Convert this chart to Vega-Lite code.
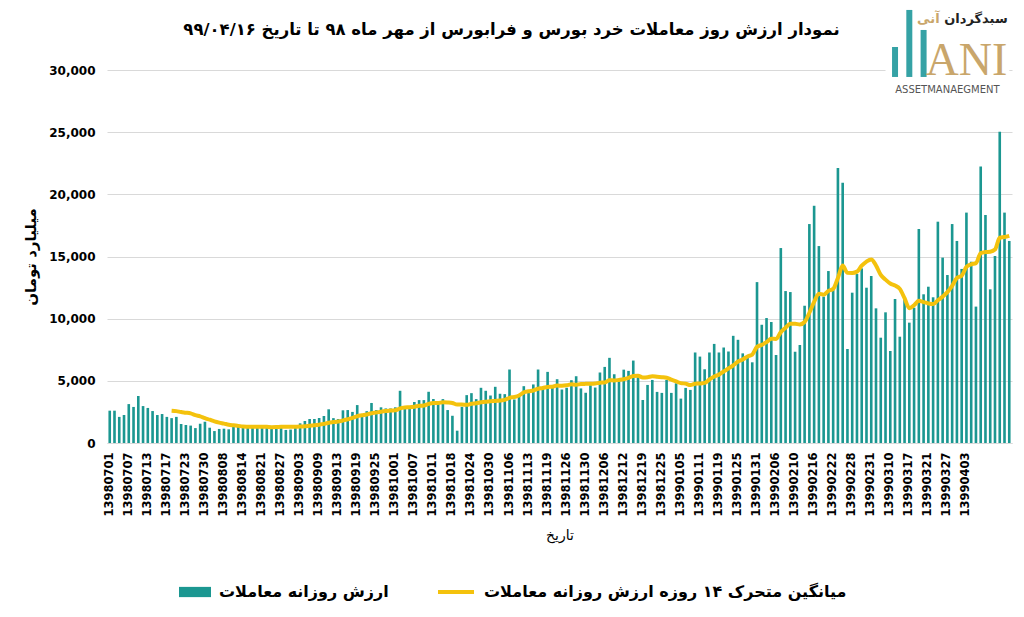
{
  "$schema": "https://vega.github.io/schema/vega-lite/v6.json",
  "width": 905,
  "height": 373,
  "autosize": {"type": "none"},
  "padding": {"left": 107, "top": 70, "right": 12, "bottom": 174},
  "background": "white",
  "config": {
    "font": "DejaVu Sans",
    "view": {"stroke": null},
    "axis": {"labelColor": "black", "titleColor": "black"}
  },
  "title": {
    "text": "نمودار ارزش روز معاملات خرد بورس و فرابورس از مهر ماه ۹۸ تا تاریخ ۹۹/۰۴/۱۶",
    "fontSize": 16.5,
    "fontWeight": "bold",
    "color": "black",
    "anchor": "middle",
    "frame": "group",
    "baseline": "bottom",
    "dx": -48,
    "offset": -53
  },
  "datasets": {
    "trade": [
      {"i":0,"d":"13980701","v":2600},{"i":1,"v":2600},{"i":2,"v":2100},{"i":3,"v":2250},
      {"i":4,"d":"13980707","v":3130},{"i":5,"v":2900},{"i":6,"v":3780},{"i":7,"v":2970},
      {"i":8,"d":"13980713","v":2820},{"i":9,"v":2570},{"i":10,"v":2250},{"i":11,"v":2330},
      {"i":12,"d":"13980717","v":2100},{"i":13,"v":2000,"ma":2600},{"i":14,"v":2100,"ma":2564},{"i":15,"v":1530,"ma":2488},
      {"i":16,"d":"13980723","v":1450,"ma":2441},{"i":17,"v":1400,"ma":2381},{"i":18,"v":1200,"ma":2243},{"i":19,"v":1550,"ma":2146},
      {"i":20,"d":"13980730","v":1710,"ma":1999},{"i":21,"v":1230,"ma":1874},{"i":22,"v":960,"ma":1741},{"i":23,"v":1130,"ma":1639},
      {"i":24,"d":"13980808","v":1150,"ma":1560},{"i":25,"v":1100,"ma":1472},{"i":26,"v":1400,"ma":1422},{"i":27,"v":1380,"ma":1378},
      {"i":28,"d":"13980814","v":1350,"ma":1324},{"i":29,"v":1400,"ma":1315},{"i":30,"v":1380,"ma":1310},{"i":31,"v":1350,"ma":1306},
      {"i":32,"d":"13980821","v":1320,"ma":1315},{"i":33,"v":1350,"ma":1301},{"i":34,"v":1350,"ma":1275},{"i":35,"v":1350,"ma":1284},
      {"i":36,"d":"13980827","v":1300,"ma":1308},{"i":37,"v":1050,"ma":1302},{"i":38,"v":1080,"ma":1297},{"i":39,"v":1300,"ma":1311},
      {"i":40,"d":"13980903","v":1580,"ma":1324},{"i":41,"v":1770,"ma":1352},{"i":42,"v":1930,"ma":1394},{"i":43,"v":1930,"ma":1431},
      {"i":44,"d":"13980909","v":2010,"ma":1476},{"i":45,"v":2170,"ma":1535},{"i":46,"v":2710,"ma":1634},{"i":47,"v":2000,"ma":1681},
      {"i":48,"d":"13980913","v":1930,"ma":1722},{"i":49,"v":2630,"ma":1814},{"i":50,"v":2650,"ma":1910},{"i":51,"v":2500,"ma":2014},
      {"i":52,"d":"13980919","v":3050,"ma":2154},{"i":53,"v":2300,"ma":2226},{"i":54,"v":2560,"ma":2296},{"i":55,"v":3220,"ma":2399},
      {"i":56,"d":"13980925","v":2650,"ma":2451},{"i":57,"v":2870,"ma":2518},{"i":58,"v":2780,"ma":2573},{"i":59,"v":2780,"ma":2616},
      {"i":60,"d":"13981001","v":2870,"ma":2628},{"i":61,"v":4200,"ma":2785},{"i":62,"v":2870,"ma":2852},{"i":63,"v":2950,"ma":2875},
      {"i":64,"d":"13981007","v":3300,"ma":2921},{"i":65,"v":3450,"ma":2989},{"i":66,"v":3450,"ma":3018},{"i":67,"v":4120,"ma":3148},
      {"i":68,"d":"13981011","v":3540,"ma":3218},{"i":69,"v":3150,"ma":3213},{"i":70,"v":3530,"ma":3276},{"i":71,"v":2650,"ma":3260},
      {"i":72,"d":"13981018","v":2190,"ma":3218},{"i":73,"v":990,"ma":3090},{"i":74,"v":2910,"ma":3093},{"i":75,"v":3850,"ma":3068},
      {"i":76,"d":"13981024","v":4010,"ma":3149},{"i":77,"v":3530,"ma":3191},{"i":78,"v":4440,"ma":3272},{"i":79,"v":4200,"ma":3326},
      {"i":80,"d":"13981030","v":3820,"ma":3352},{"i":81,"v":4520,"ma":3381},{"i":82,"v":3960,"ma":3411},{"i":83,"v":3930,"ma":3466},
      {"i":84,"d":"13981106","v":5910,"ma":3636},{"i":85,"v":3500,"ma":3697},{"i":86,"v":3900,"ma":3819},{"i":87,"v":4570,"ma":4075},
      {"i":88,"d":"13981113","v":4120,"ma":4161},{"i":89,"v":4710,"ma":4223},{"i":90,"v":5910,"ma":4359},{"i":91,"v":4390,"ma":4420},
      {"i":92,"d":"13981119","v":5720,"ma":4511},{"i":93,"v":4440,"ma":4529},{"i":94,"v":5130,"ma":4622},{"i":95,"v":4300,"ma":4606},
      {"i":96,"d":"13981126","v":4440,"ma":4641},{"i":97,"v":5050,"ma":4721},{"i":98,"v":5370,"ma":4682},{"i":99,"v":4390,"ma":4746},
      {"i":100,"d":"13981130","v":4040,"ma":4756},{"i":101,"v":4650,"ma":4761},{"i":102,"v":4460,"ma":4786},{"i":103,"v":5670,"ma":4854},
      {"i":104,"d":"13981206","v":6120,"ma":4869},{"i":105,"v":6850,"ma":5045},{"i":106,"v":5530,"ma":5031},{"i":107,"v":5000,"ma":5071},
      {"i":108,"d":"13981212","v":5900,"ma":5126},{"i":109,"v":5800,"ma":5234},{"i":110,"v":6630,"ma":5390},{"i":111,"v":5290,"ma":5407},
      {"i":112,"d":"13981219","v":3460,"ma":5271},{"i":113,"v":4670,"ma":5291},{"i":114,"v":5070,"ma":5364},{"i":115,"v":4110,"ma":5326},
      {"i":116,"d":"13981225","v":4030,"ma":5295},{"i":117,"v":5070,"ma":5252},{"i":118,"v":4030,"ma":5103},{"i":119,"v":4800,"ma":4956},
      {"i":120,"d":"13990105","v":3570,"ma":4816},{"i":121,"v":4430,"ma":4776},{"i":122,"v":4270,"ma":4659},{"i":123,"v":7280,"ma":4765},
      {"i":124,"d":"13990111","v":6950,"ma":4788},{"i":125,"v":5930,"ma":4834},{"i":126,"v":7280,"ma":5106},{"i":127,"v":7970,"ma":5342},
      {"i":128,"d":"13990119","v":7280,"ma":5500},{"i":129,"v":7680,"ma":5755},{"i":130,"v":7360,"ma":5993},{"i":131,"v":8620,"ma":6246},
      {"i":132,"d":"13990125","v":8300,"ma":6551},{"i":133,"v":7210,"ma":6724},{"i":134,"v":6940,"ma":6964},{"i":135,"v":6490,"ma":7111},
      {"i":136,"d":"13990131","v":12940,"ma":7731},{"i":137,"v":9510,"ma":7890},{"i":138,"v":10050,"ma":8111},{"i":139,"v":9730,"ma":8383},
      {"i":140,"d":"13990206","v":7080,"ma":8369},{"i":141,"v":15680,"ma":8919},{"i":142,"v":12220,"ma":9272},{"i":143,"v":12140,"ma":9591},
      {"i":144,"d":"13990210","v":7340,"ma":9589},{"i":145,"v":7880,"ma":9536},{"i":146,"v":11040,"ma":9732},{"i":147,"v":17610,"ma":10475},
      {"i":148,"d":"13990216","v":19080,"ma":11342},{"i":149,"v":15840,"ma":12010},{"i":150,"v":11770,"ma":11926},{"i":151,"v":13830,"ma":12235},
      {"i":152,"d":"13990222","v":12300,"ma":12396},{"i":153,"v":22110,"ma":13280},{"i":154,"v":20930,"ma":14269},{"i":155,"v":7560,"ma":13689},
      {"i":156,"d":"13990228","v":12090,"ma":13680},{"i":157,"v":13590,"ma":13784},{"i":158,"v":14040,"ma":14262},{"i":159,"v":12490,"ma":14591},
      {"i":160,"d":"13990231","v":13430,"ma":14762},{"i":161,"v":10830,"ma":14278},{"i":162,"v":8470,"ma":13520},{"i":163,"v":10510,"ma":13139},
      {"i":164,"d":"13990310","v":7400,"ma":12827},{"i":165,"v":11580,"ma":12666},{"i":166,"v":8550,"ma":12399},{"i":167,"v":11600,"ma":11648},
      {"i":168,"d":"13990317","v":9680,"ma":10844},{"i":169,"v":10880,"ma":11081},{"i":170,"v":17210,"ma":11447},{"i":171,"v":11960,"ma":11331},
      {"i":172,"d":"13990321","v":12570,"ma":11226},{"i":173,"v":11720,"ma":11171},{"i":174,"v":17800,"ma":11483},{"i":175,"v":14910,"ma":11774},
      {"i":176,"d":"13990327","v":13510,"ma":12134},{"i":177,"v":17610,"ma":12641},{"i":178,"v":16250,"ma":13274},{"i":179,"v":14000,"ma":13446},
      {"i":180,"d":"13990403","v":18530,"ma":14159},{"i":181,"v":14580,"ma":14372},{"i":182,"v":10970,"ma":14464},{"i":183,"v":22230,"ma":15275},
      {"i":184,"v":18340,"ma":15356},{"i":185,"v":12360,"ma":15384},{"i":186,"v":15040,"ma":15561},{"i":187,"v":25040,"ma":16513},
      {"i":188,"v":18530,"ma":16565},{"i":189,"d":"13990416","v":16250,"ma":16661}
    ]
  },
  "data": {"name": "trade"},
  "layer": [
    {
      "mark": {"type": "bar"},
      "encoding": {
        "x": {
          "field": "i", "type": "ordinal",
          "scale": {"paddingInner": 0.45, "paddingOuter": 0.3},
          "axis": {
            "values": [0,4,8,12,16,20,24,28,32,36,40,44,48,52,56,60,64,68,72,76,80,84,88,92,96,100,104,108,112,116,120,124,128,132,136,140,144,148,152,156,160,164,168,172,176,180],
            "labelExpr": "['13980701','13980707','13980713','13980717','13980723','13980730','13980808','13980814','13980821','13980827','13980903','13980909','13980913','13980919','13980925','13981001','13981007','13981011','13981018','13981024','13981030','13981106','13981113','13981119','13981126','13981130','13981206','13981212','13981219','13981225','13990105','13990111','13990119','13990125','13990131','13990206','13990210','13990216','13990222','13990228','13990231','13990310','13990317','13990321','13990327','13990403'][datum.value / 4]",
            "labelAngle": -90,
            "labelFontSize": 11.5,
            "labelFontWeight": "bold",
            "labelPadding": 9,
            "ticks": false,
            "tickSize": 0,
            "domainColor": "#d9d9d9",
            "grid": false,
            "title": "تاریخ",
            "titleFontSize": 14,
            "titleFontWeight": "normal",
            "titlePadding": 12
          }
        },
        "y": {
          "field": "v", "type": "quantitative",
          "title": "میلیارد تومان",
          "scale": {"domain": [0, 30000], "nice": false},
          "axis": {
            "values": [0, 5000, 10000, 15000, 20000, 25000, 30000],
            "labelExpr": "format(datum.value, ',')",
            "labelFontSize": 12,
            "labelFontWeight": "bold",
            "labelPadding": 12,
            "ticks": false,
            "domain": false,
            "gridColor": "#d9d9d9",
            "title": "میلیارد تومان",
            "titleFontSize": 15,
            "titleFontWeight": "bold",
            "titlePadding": 10
          }
        },
        "fill": {
          "datum": "ارزش روزانه معاملات", "type": "nominal",
          "scale": {"range": ["#1b9791"]},
          "legend": {
            "orient": "none", "legendX": 72, "legendY": 506, "padding": 0,
            "title": null,
            "symbolType": "M-1,-0.32H1V0.32H-1Z", "symbolSize": 1024, "symbolStrokeWidth": 0,
            "labelFontSize": 16, "labelFontWeight": "bold", "labelColor": "black", "labelLimit": 600, "labelOffset": 8
          }
        }
      }
    },
    {
      "mark": {"type": "line", "strokeWidth": 4, "interpolate": "monotone"},
      "encoding": {
        "x": {"field": "i", "type": "ordinal"},
        "y": {"field": "ma", "type": "quantitative", "title": "میلیارد تومان"},
        "stroke": {
          "datum": "میانگین متحرک ۱۴ روزه ارزش روزانه معاملات", "type": "nominal",
          "scale": {"range": ["#f4c20d"]},
          "legend": {
            "orient": "none", "legendX": 329, "legendY": 502, "padding": 0,
            "title": null,
            "symbolType": "stroke", "symbolSize": 1296, "symbolStrokeWidth": 4,
            "labelFontSize": 16, "labelFontWeight": "bold", "labelColor": "black", "labelLimit": 600, "labelOffset": 8
          }
        }
      }
    },
    {
      "data": {"values": [{}]},
      "mark": {"type": "rect", "color": "white"},
      "encoding": {
        "x": {"datum": 163, "type": "ordinal"},
        "x2": {"datum": 189},
        "y": {"datum": 35500, "type": "quantitative"},
        "y2": {"datum": 28000}
      }
    },
    {
      "data": {"values": [{"x": 165, "top": 31850}, {"x": 168, "top": 34830}, {"x": 171, "top": 33220}]},
      "mark": {"type": "rule", "strokeWidth": 6, "color": "#35a2a5"},
      "encoding": {
        "x": {"field": "x", "type": "ordinal"},
        "y": {"field": "top", "type": "quantitative"},
        "y2": {"datum": 29440}
      }
    },
    {
      "data": {"values": [{}]},
      "mark": {"type": "text", "text": "ANI", "font": "Liberation Serif", "fontSize": 46, "color": "#c9a66b", "baseline": "alphabetic", "align": "center"},
      "encoding": {
        "x": {"datum": 180, "type": "ordinal"},
        "y": {"datum": 29600, "type": "quantitative"}
      }
    },
    {
      "data": {"values": [{}]},
      "mark": {"type": "text", "text": "ASSETMANAEGMENT", "fontSize": 10, "color": "#555555", "baseline": "middle", "align": "center"},
      "encoding": {
        "x": {"datum": 176, "type": "ordinal"},
        "y": {"datum": 28392, "type": "quantitative"}
      }
    },
    {
      "data": {"values": [{}]},
      "mark": {"type": "text", "text": "سبدگردان", "fontSize": 13, "fontWeight": "bold", "color": "#222222", "baseline": "middle", "align": "center"},
      "encoding": {
        "x": {"datum": 182, "type": "ordinal"},
        "y": {"datum": 34100, "type": "quantitative"}
      }
    },
    {
      "data": {"values": [{}]},
      "mark": {"type": "text", "text": "آنی", "fontSize": 13, "fontWeight": "bold", "color": "#c9a66b", "baseline": "middle", "align": "center"},
      "encoding": {
        "x": {"datum": 172, "type": "ordinal"},
        "y": {"datum": 34100, "type": "quantitative"}
      }
    }
  ]
}
